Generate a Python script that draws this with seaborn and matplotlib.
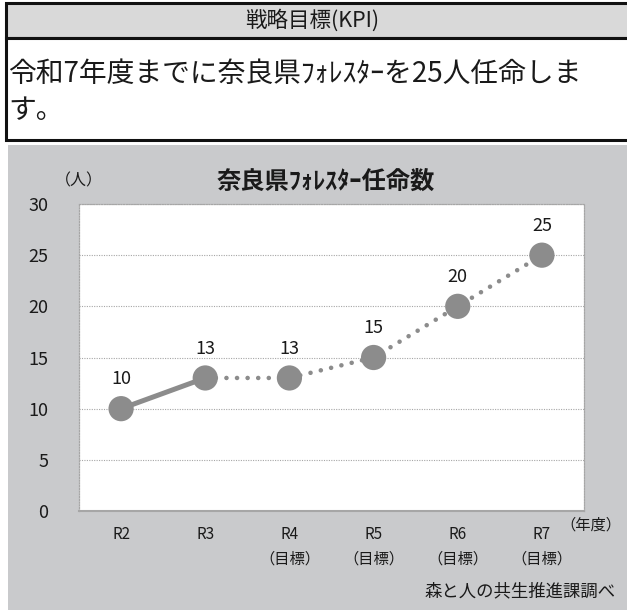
import matplotlib
matplotlib.use("Agg")
import matplotlib.pyplot as plt
from matplotlib.patches import Rectangle
import numpy as np
import pandas as pd
import seaborn as sns

# --- data ---------------------------------------------------------------
years = ["R2", "R3", "R4", "R5", "R6", "R7"]
year_labels = ["R2", "R3", "R4\n（目標）", "R5\n（目標）", "R6\n（目標）", "R7\n（目標）"]
foresters = [10, 13, 13, 15, 20, 25]
n_actual = 2  # R2, R3 are results; R4 onward are targets
y_ticks = [0, 5, 10, 15, 20, 25, 30]

header_title = "戦略目標(KPI)"
header_text = "令和7年度までに奈良県ﾌｫﾚｽﾀｰを25人任命しま\nす。"
chart_title = "奈良県ﾌｫﾚｽﾀｰ任命数"
unit_label = "（人）"
year_unit = "（年度）"
source_note = "森と人の共生推進課調べ"

# --- style --------------------------------------------------------------
sns.set_style("white")
plt.rcParams["font.family"] = ["Noto Sans CJK JP", "DejaVu Sans"]

LINE = "#8c8c8c"
PANEL = "#c9cacc"
HEAD = "#d9d9d9"
GRID = "#a6a6a6"
TEXT = "#1a1a1a"

W, H = 627, 610
fig = plt.figure(figsize=(W / 100, H / 100), dpi=100)
fig.patch.set_facecolor("white")


def fx(px):
    return px / W


def fy(py):
    return 1 - py / H


# header boxes
fig.add_artist(Rectangle((fx(6), fy(38)), fx(640), 35 / H, transform=fig.transFigure,
                         facecolor=HEAD, edgecolor="#111111", linewidth=2.2, zorder=1))
fig.add_artist(Rectangle((fx(6), fy(140)), fx(640), 102 / H, transform=fig.transFigure,
                         facecolor="white", edgecolor="#111111", linewidth=2.2, zorder=1))
fig.text(fx(312), fy(20), header_title, ha="center", va="center", fontsize=15.5, color=TEXT)
fig.text(fx(8), fy(92), header_text, ha="left", va="center", fontsize=20,
         color=TEXT, linespacing=1.3)

# chart panel
fig.add_artist(Rectangle((fx(8), 0), fx(640), (H - 145) / H, transform=fig.transFigure,
                         facecolor=PANEL, edgecolor="none", zorder=0))

ax = fig.add_axes([fx(79), fy(511), fx(584 - 79), (511 - 204) / H])
ax.set_facecolor("white")

df = pd.DataFrame({"year": years, "value": foresters})
df["pos"] = np.arange(len(df))
actual = df.iloc[:n_actual]
target = df.iloc[n_actual - 1:]

sns.lineplot(data=actual, x="pos", y="value", ax=ax, color=LINE, linewidth=3.6,
             solid_capstyle="round", zorder=3)
sns.lineplot(data=target, x="pos", y="value", ax=ax, color=LINE, linewidth=3.3,
             linestyle=(0, (0.01, 2.3)), dash_capstyle="round", zorder=3)
sns.scatterplot(data=df, x="pos", y="value", ax=ax, color=LINE, s=330,
                edgecolor="none", zorder=4, legend=False)

for _, r in df.iterrows():
    ax.annotate(f"{r['value']}", (r["pos"], r["value"]), xytext=(0, 21),
                textcoords="offset points", ha="center", va="center",
                fontsize=13, color=TEXT)

ax.set_xlim(-0.5, len(years) - 0.5)
ax.set_ylim(y_ticks[0], y_ticks[-1])
ax.set_yticks(y_ticks)
ax.set_yticklabels([str(t) for t in y_ticks], fontsize=13, color=TEXT)
ax.set_xticks(df["pos"])
ax.set_xticklabels(year_labels, fontsize=11, color=TEXT, linespacing=1.55)
ax.set_xticks(np.arange(len(years) + 1) - 0.5, minor=True)
ax.tick_params(axis="x", which="major", length=0, pad=11)
ax.tick_params(axis="x", which="minor", length=4, color=GRID, width=1, direction="out")
ax.tick_params(axis="y", which="major", length=5, color="#bbbbbb", width=0.8, pad=17)
ax.set_xlabel("")
ax.set_ylabel("")

ax.grid(axis="y", color=GRID, linestyle=(0, (1, 1.2)), linewidth=0.8)
ax.grid(axis="x", visible=False)
for side in ("left", "right", "top"):
    ax.spines[side].set_color(GRID)
    ax.spines[side].set_linestyle((0, (1, 1.2)))
    ax.spines[side].set_linewidth(0.9)
ax.spines["bottom"].set_color(GRID)
ax.spines["bottom"].set_linewidth(1.5)

fig.text(fx(326), fy(182), chart_title, ha="center", va="center",
         fontsize=17.5, fontweight="bold", color=TEXT)
fig.text(fx(79), fy(181), unit_label, ha="center", va="center", fontsize=11.5, color=TEXT)
fig.text(fx(591), fy(525), year_unit, ha="center", va="center", fontsize=11, color=TEXT)
fig.text(fx(616), fy(591), source_note, ha="right", va="center", fontsize=12.5, color=TEXT)

fig.savefig("out.png", dpi=100)
